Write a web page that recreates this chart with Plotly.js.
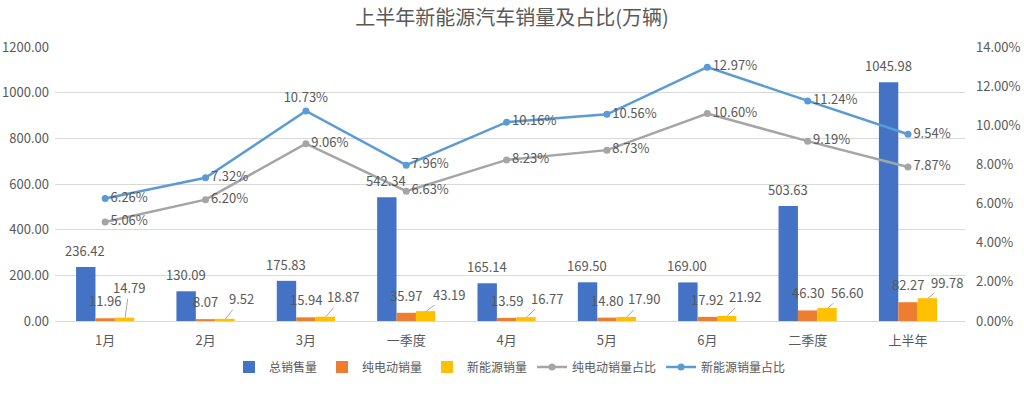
<!DOCTYPE html>
<html>
<head>
<meta charset="utf-8">
<script src="https://cdn.plot.ly/plotly-3.0.1.min.js"></script>
<style>html,body{margin:0;padding:0;background:#fff}#chart{width:1024px;height:400px}</style>
</head>
<body>
<div id="chart"></div>
<script>
var categories = ['1月','2月','3月','一季度','4月','5月','6月','二季度','上半年'];
var totalSales = [236.42,130.09,175.83,542.34,165.14,169.50,169.00,503.63,1045.98];
var bevSales = [11.96,8.07,15.94,35.97,13.59,14.80,17.92,46.30,82.27];
var nevSales = [14.79,9.52,18.87,43.19,16.77,17.90,21.92,56.60,99.78];
var bevShare = [5.06,6.20,9.06,6.63,8.23,8.73,10.60,9.19,7.87];
var nevShare = [6.26,7.32,10.73,7.96,10.16,10.56,12.97,11.24,9.54];

// label offsets (pixels) for the leader-line labels of the yellow bars
var nevLabelAx = [4,16,17,23,20,17,18,19,19];
var nevLabelAy = [-30,-20,-20,-17,-19,-18,-19,-16,-16];
var nevSharePos = ['middle right','middle right','top center','middle right','middle right','middle right','middle right','middle right','middle right'];

var FONT = 'Noto Sans CJK SC, Noto Sans, sans-serif';
var TXT = '#595959';
var FS = 13;

var traces = [
  {type:'bar', name:'总销售量', x:categories, y:totalSales, marker:{color:'#4472C4'}, hoverinfo:'skip'},
  {type:'bar', name:'纯电动销量', x:categories, y:bevSales, marker:{color:'#ED7D31'}, hoverinfo:'skip'},
  {type:'bar', name:'新能源销量', x:categories, y:nevSales, marker:{color:'#FFC000'}, hoverinfo:'skip'},
  {type:'scatter', mode:'lines+markers+text', name:'纯电动销量占比', x:categories, y:bevShare, yaxis:'y2',
   line:{color:'#A5A5A5', width:2.5}, marker:{color:'#A5A5A5', size:7},
   texttemplate:'%{y:.2f}%', textposition:'middle right', textfont:{size:FS, color:TXT, family:FONT}, cliponaxis:false},
  {type:'scatter', mode:'lines+markers+text', name:'新能源销量占比', x:categories, y:nevShare, yaxis:'y2',
   line:{color:'#5B9BD5', width:2.5}, marker:{color:'#5B9BD5', size:7},
   texttemplate:'%{y:.2f}%', textposition:nevSharePos, textfont:{size:FS, color:TXT, family:FONT}, cliponaxis:false}
];

var annotations = [];
categories.forEach(function(c, i){
  annotations.push({x:c, y:totalSales[i], xref:'x', yref:'y', text:totalSales[i].toFixed(2), showarrow:false,
    xshift:-20, yshift:5, yanchor:'bottom', font:{size:FS, color:TXT, family:FONT}});
  annotations.push({x:c, y:bevSales[i], xref:'x', yref:'y', text:bevSales[i].toFixed(2), showarrow:false,
    xshift:0, yshift:6, yanchor:'bottom', font:{size:FS, color:TXT, family:FONT}});
  annotations.push({x:c, y:nevSales[i], xref:'x', yref:'y', text:nevSales[i].toFixed(2), showarrow:true,
    arrowhead:0, arrowwidth:1, arrowcolor:'#A6A6A6', ax:nevLabelAx[i], ay:nevLabelAy[i], xshift:20,
    standoff:0, startstandoff:0, font:{size:FS, color:TXT, family:FONT}});
});

var layout = {
  width:1024, height:400,
  margin:{l:55, r:59, t:47, b:79},
  paper_bgcolor:'#fff', plot_bgcolor:'#fff',
  font:{family:FONT, color:TXT, size:FS},
  title:{text:'上半年新能源汽车销量及占比(万辆)', x:0.5, xanchor:'center', y:0.955, yanchor:'middle',
    font:{size:20, color:TXT, family:FONT}},
  barmode:'group', bargap:0.42, bargroupgap:0,
  showlegend:true,
  legend:{orientation:'h', x:0.5, xanchor:'center', y:-0.115, yanchor:'top', font:{size:12, color:TXT, family:FONT},
    itemwidth:30, tracegroupgap:0},
  xaxis:{type:'category', showgrid:false, showline:true, linecolor:'#D9D9D9', linewidth:1, ticks:'',
    ticklabelstandoff:7, tickfont:{size:FS, color:TXT, family:FONT}, fixedrange:true},
  yaxis:{range:[0,1200], dtick:200, tickformat:'.2f', showgrid:true, gridcolor:'#D9D9D9', gridwidth:1,
    zeroline:false, showline:false, ticks:'', ticklabelstandoff:5, tickfont:{size:FS, color:TXT, family:FONT}, fixedrange:true},
  yaxis2:{overlaying:'y', side:'right', range:[0,14], dtick:2, tickformat:'.2f', ticksuffix:'%', showgrid:false,
    zeroline:false, showline:false, ticks:'', ticklabelstandoff:10, tickfont:{size:FS, color:TXT, family:FONT}, fixedrange:true},
  annotations:annotations
};

Plotly.newPlot('chart', traces, layout, {displayModeBar:false, staticPlot:true});
</script>
</body>
</html>
